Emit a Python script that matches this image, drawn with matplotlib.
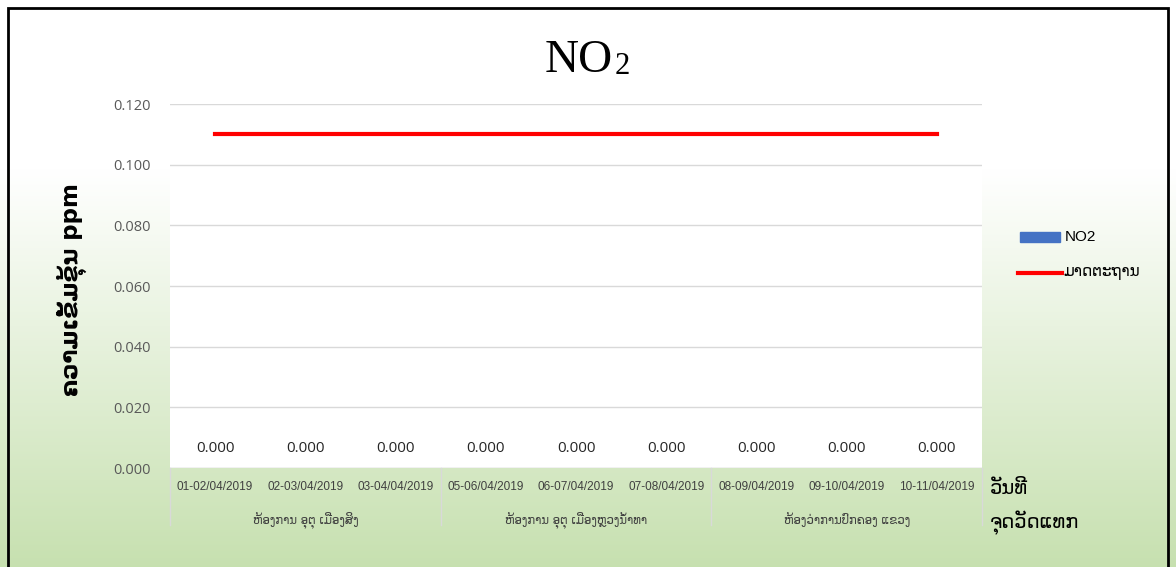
import matplotlib.pyplot as plt
import numpy as np
from matplotlib.patches import Rectangle
from matplotlib.lines import Line2D

dates = ["01-02/04/2019", "02-03/04/2019", "03-04/04/2019",
         "05-06/04/2019", "06-07/04/2019", "07-08/04/2019",
         "08-09/04/2019", "09-10/04/2019", "10-11/04/2019"]
groups = ["ຫ້ອງການ ອຸຕຸ ເມືອງສິງ", "ຫ້ອງການ ອຸຕຸ ເມືອງຫຼວງນ້ຳທາ", "ຫ້ອງວ່າການປົກຄອງ ແຂວງ"]
no2 = [0.000, 0.000, 0.000, 0.000, 0.000, 0.000, 0.000, 0.000, 0.000]
standard = [0.11, 0.11, 0.11, 0.11, 0.11, 0.11, 0.11, 0.11, 0.11]
yticks = [0.0, 0.02, 0.04, 0.06, 0.08, 0.10, 0.12]

sans = ["Liberation Sans", "DejaVu Sans"]
plt.rcParams['font.family'] = sans

fig = plt.figure(figsize=(11.76, 5.67), dpi=100)

# background gradient white -> light green
bg = fig.add_axes([0, 0, 1, 1])
grad = np.ones((200, 1, 3))
t = np.linspace(0, 1, 200)
k = np.clip((t - 0.3) / 0.7, 0, 1)
grad[:, 0, 0] = 1 - k * (1 - 0.78)
grad[:, 0, 1] = 1 - k * (1 - 0.88)
grad[:, 0, 2] = 1 - k * (1 - 0.69)
bg.imshow(grad, aspect='auto', extent=[0, 1, 0, 1], origin='upper')
bg.add_patch(Rectangle((8 / 1176, -0.01), 1160 / 1176, 1.01 - 8 / 567, fill=False,
                       edgecolor='black', linewidth=2))
bg.set_xlim(0, 1)
bg.set_ylim(0, 1)
bg.axis('off')

ax = fig.add_axes([170 / 1176, 1 - 468 / 567, 812 / 1176, 364 / 567])
ax.patch.set_facecolor("white")
x = np.arange(len(dates))
ax.bar(x, no2, width=0.6, color="#4472C4")
ax.plot(x, standard, color="#FF0000", linewidth=3)
for xi, v in zip(x, no2):
    ax.annotate("%.3f" % v, (xi, v), xytext=(0, 9), textcoords="offset points",
                ha='center', va='bottom', fontsize=11, color="#262626",
                family=["Open Sans", "DejaVu Sans"])
ax.set_xlim(-0.5, len(dates) - 0.5)
ax.set_ylim(0, 0.12)
ax.set_yticks(yticks)
ax.set_yticklabels(["%.3f" % v for v in yticks], fontsize=10.5, color="#595959",
                   family=["Open Sans", "DejaVu Sans"])
ax.yaxis.grid(True, color="#D9D9D9", linewidth=1)
ax.set_axisbelow(True)
ax.tick_params(axis='y', length=0, pad=14)
ax.tick_params(axis='x', length=0)
ax.set_xticks(x)
ax.set_xticklabels(dates, fontsize=8.5, color="#404040")
ax.tick_params(axis='x', pad=9)
for s in ax.spines.values():
    s.set_visible(False)
ax.axhline(0, color="#D9D9D9", linewidth=1)

# group separators and group labels
for b in [-0.5, 2.5, 5.5, 8.5]:
    ax.add_line(Line2D([b, b], [0, -0.0188], color="#D9D9D9", linewidth=1,
                       clip_on=False))
for i, g in enumerate(groups):
    ax.text(3 * i + 1, -0.0186, g, ha='center', va='baseline', fontsize=8.5,
            color="#404040", family=["DejaVu Sans"])

fig.text(990 / 1176, 1 - 494 / 567, "ວັນທີ", fontsize=14, ha='left', va='baseline',
         family=["DejaVu Sans"])
fig.text(990 / 1176, 1 - 528 / 567, "ຈຸດວັດແທກ", fontsize=14, ha='left', va='baseline',
         family=["DejaVu Sans"])

fig.text(72 / 1176, 1 - 290 / 567, "ຄວາມເຂັ້ມຂຸ້ນ ppm", rotation=90, fontsize=16.5,
         fontweight='bold', ha='center', va='center', family=["DejaVu Sans"])

# title
fig.text(613 / 1176, 1 - 61 / 567, "NO", fontsize=34, ha='right', va='center',
         family=["Liberation Serif"])
fig.text(615 / 1176, 1 - 67 / 567, "2", fontsize=22, ha='left', va='center',
         family=["Liberation Serif"])

# legend
fig.patches.append(Rectangle((1020 / 1176, 1 - 242 / 567), 40 / 1176, 10 / 567,
                             transform=fig.transFigure, color="#4472C4"))
fig.text(1065 / 1176, 1 - 237 / 567, "NO2", fontsize=11, va='center', ha='left')
fig.lines.append(Line2D([1018 / 1176, 1062 / 1176], [1 - 273 / 567, 1 - 273 / 567],
                        transform=fig.transFigure, color="#FF0000", linewidth=3))
fig.text(1064 / 1176, 1 - 276 / 567, "ມາດຕະຖານ", fontsize=11, va='baseline',
         ha='left', family=["DejaVu Sans"])

plt.savefig("out.png", dpi=100)
